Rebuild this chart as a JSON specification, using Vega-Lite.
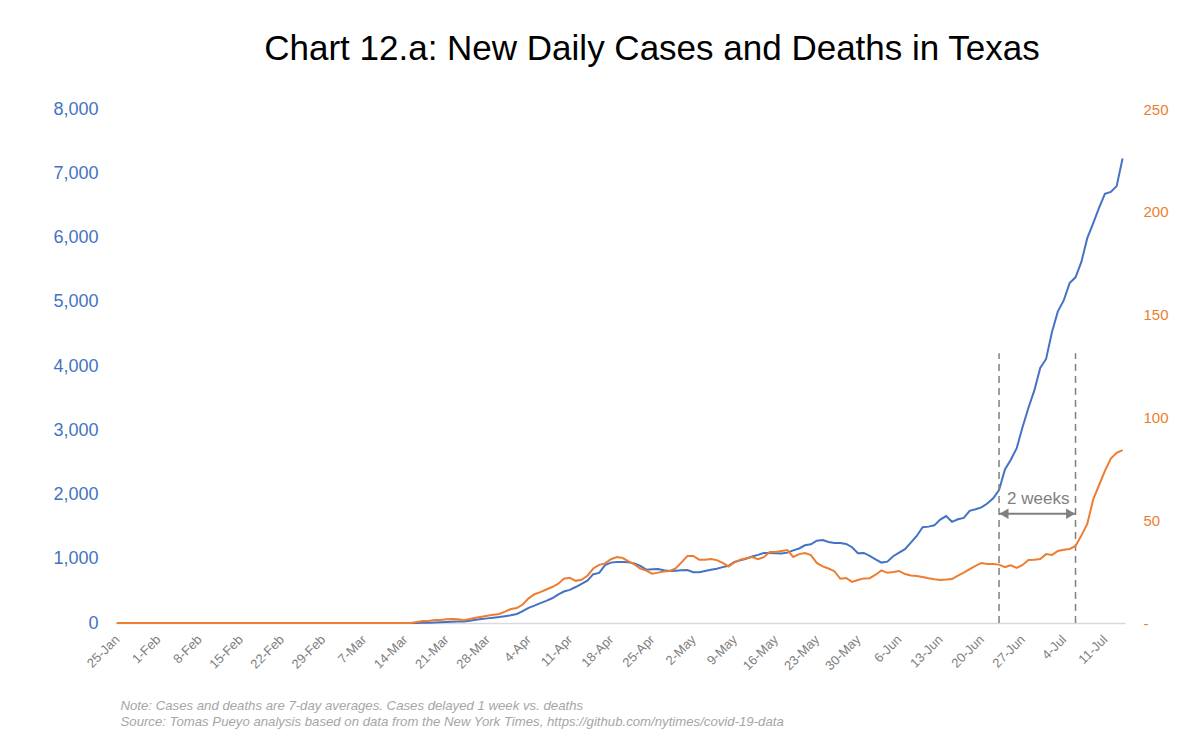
{
  "$schema": "https://vega.github.io/schema/vega-lite/v6.json",
  "width": 1010,
  "height": 514,
  "autosize": {"type": "pad"},
  "padding": {"left": 52, "top": 32, "right": 20, "bottom": 10},
  "background": "white",
  "config": {"view": {"stroke": null}, "font": "Liberation Sans"},
  "title": {"text": "Chart 12.a: New Daily Cases and Deaths in Texas", "font": "Liberation Sans", "fontSize": 35, "fontWeight": "normal", "color": "#000000", "anchor": "middle", "dx": 32, "offset": 33},
  "datasets": {
    "ts": [
      {"date": "2020-01-25", "cases": 0, "deaths": 0},
      {"date": "2020-01-26", "cases": 0, "deaths": 0},
      {"date": "2020-01-27", "cases": 0, "deaths": 0},
      {"date": "2020-01-28", "cases": 0, "deaths": 0},
      {"date": "2020-01-29", "cases": 0, "deaths": 0},
      {"date": "2020-01-30", "cases": 0, "deaths": 0},
      {"date": "2020-01-31", "cases": 0, "deaths": 0},
      {"date": "2020-02-01", "cases": 0, "deaths": 0},
      {"date": "2020-02-02", "cases": 0, "deaths": 0},
      {"date": "2020-02-03", "cases": 0, "deaths": 0},
      {"date": "2020-02-04", "cases": 0, "deaths": 0},
      {"date": "2020-02-05", "cases": 0, "deaths": 0},
      {"date": "2020-02-06", "cases": 0, "deaths": 0},
      {"date": "2020-02-07", "cases": 0, "deaths": 0},
      {"date": "2020-02-08", "cases": 0, "deaths": 0},
      {"date": "2020-02-09", "cases": 0, "deaths": 0},
      {"date": "2020-02-10", "cases": 0, "deaths": 0},
      {"date": "2020-02-11", "cases": 0, "deaths": 0},
      {"date": "2020-02-12", "cases": 0, "deaths": 0},
      {"date": "2020-02-13", "cases": 0, "deaths": 0},
      {"date": "2020-02-14", "cases": 0, "deaths": 0},
      {"date": "2020-02-15", "cases": 0, "deaths": 0},
      {"date": "2020-02-16", "cases": 0, "deaths": 0},
      {"date": "2020-02-17", "cases": 0, "deaths": 0},
      {"date": "2020-02-18", "cases": 0, "deaths": 0},
      {"date": "2020-02-19", "cases": 0, "deaths": 0},
      {"date": "2020-02-20", "cases": 0, "deaths": 0},
      {"date": "2020-02-21", "cases": 0, "deaths": 0},
      {"date": "2020-02-22", "cases": 0, "deaths": 0},
      {"date": "2020-02-23", "cases": 0, "deaths": 0},
      {"date": "2020-02-24", "cases": 0, "deaths": 0},
      {"date": "2020-02-25", "cases": 0, "deaths": 0},
      {"date": "2020-02-26", "cases": 0, "deaths": 0},
      {"date": "2020-02-27", "cases": 0, "deaths": 0},
      {"date": "2020-02-28", "cases": 0, "deaths": 0},
      {"date": "2020-02-29", "cases": 0, "deaths": 0},
      {"date": "2020-03-01", "cases": 0, "deaths": 0},
      {"date": "2020-03-02", "cases": 0, "deaths": 0},
      {"date": "2020-03-03", "cases": 0, "deaths": 0},
      {"date": "2020-03-04", "cases": 0, "deaths": 0},
      {"date": "2020-03-05", "cases": 0, "deaths": 0},
      {"date": "2020-03-06", "cases": 0, "deaths": 0},
      {"date": "2020-03-07", "cases": 0, "deaths": 0},
      {"date": "2020-03-08", "cases": 0, "deaths": 0},
      {"date": "2020-03-09", "cases": 0, "deaths": 0},
      {"date": "2020-03-10", "cases": 0, "deaths": 0},
      {"date": "2020-03-11", "cases": 0, "deaths": 0},
      {"date": "2020-03-12", "cases": 0, "deaths": 0},
      {"date": "2020-03-13", "cases": 0, "deaths": 0},
      {"date": "2020-03-14", "cases": 0, "deaths": 0},
      {"date": "2020-03-15", "cases": 0, "deaths": 0},
      {"date": "2020-03-16", "cases": 0, "deaths": 0.5},
      {"date": "2020-03-17", "cases": 2, "deaths": 1},
      {"date": "2020-03-18", "cases": 5, "deaths": 1},
      {"date": "2020-03-19", "cases": 8, "deaths": 1.5},
      {"date": "2020-03-20", "cases": 12, "deaths": 1.5},
      {"date": "2020-03-21", "cases": 15, "deaths": 1.8},
      {"date": "2020-03-22", "cases": 18, "deaths": 2},
      {"date": "2020-03-23", "cases": 22, "deaths": 1.8},
      {"date": "2020-03-24", "cases": 25, "deaths": 1.3},
      {"date": "2020-03-25", "cases": 35, "deaths": 2},
      {"date": "2020-03-26", "cases": 50, "deaths": 2.5},
      {"date": "2020-03-27", "cases": 62, "deaths": 3},
      {"date": "2020-03-28", "cases": 72, "deaths": 3.5},
      {"date": "2020-03-29", "cases": 82, "deaths": 4},
      {"date": "2020-03-30", "cases": 92, "deaths": 4.4},
      {"date": "2020-03-31", "cases": 105, "deaths": 5.5},
      {"date": "2020-04-01", "cases": 120, "deaths": 6.8},
      {"date": "2020-04-02", "cases": 140, "deaths": 7.3},
      {"date": "2020-04-03", "cases": 185, "deaths": 9},
      {"date": "2020-04-04", "cases": 235, "deaths": 12},
      {"date": "2020-04-05", "cases": 270, "deaths": 14},
      {"date": "2020-04-06", "cases": 310, "deaths": 15},
      {"date": "2020-04-07", "cases": 345, "deaths": 16.3},
      {"date": "2020-04-08", "cases": 385, "deaths": 17.5},
      {"date": "2020-04-09", "cases": 440, "deaths": 19},
      {"date": "2020-04-10", "cases": 490, "deaths": 21.5},
      {"date": "2020-04-11", "cases": 515, "deaths": 22},
      {"date": "2020-04-12", "cases": 560, "deaths": 20.5},
      {"date": "2020-04-13", "cases": 610, "deaths": 21},
      {"date": "2020-04-14", "cases": 660, "deaths": 23},
      {"date": "2020-04-15", "cases": 760, "deaths": 26.5},
      {"date": "2020-04-16", "cases": 780, "deaths": 28.3},
      {"date": "2020-04-17", "cases": 900, "deaths": 29},
      {"date": "2020-04-18", "cases": 940, "deaths": 31},
      {"date": "2020-04-19", "cases": 950, "deaths": 32.1},
      {"date": "2020-04-20", "cases": 950, "deaths": 31.6},
      {"date": "2020-04-21", "cases": 945, "deaths": 30},
      {"date": "2020-04-22", "cases": 925, "deaths": 28.5},
      {"date": "2020-04-23", "cases": 890, "deaths": 26.5},
      {"date": "2020-04-24", "cases": 830, "deaths": 25.5},
      {"date": "2020-04-25", "cases": 835, "deaths": 24},
      {"date": "2020-04-26", "cases": 840, "deaths": 24.5},
      {"date": "2020-04-27", "cases": 820, "deaths": 25},
      {"date": "2020-04-28", "cases": 810, "deaths": 25.3},
      {"date": "2020-04-29", "cases": 815, "deaths": 26.5},
      {"date": "2020-04-30", "cases": 820, "deaths": 29.5},
      {"date": "2020-05-01", "cases": 825, "deaths": 32.6},
      {"date": "2020-05-02", "cases": 790, "deaths": 32.6},
      {"date": "2020-05-03", "cases": 790, "deaths": 30.8},
      {"date": "2020-05-04", "cases": 810, "deaths": 30.8},
      {"date": "2020-05-05", "cases": 830, "deaths": 31.1},
      {"date": "2020-05-06", "cases": 845, "deaths": 30.6},
      {"date": "2020-05-07", "cases": 870, "deaths": 29.2},
      {"date": "2020-05-08", "cases": 890, "deaths": 27.5},
      {"date": "2020-05-09", "cases": 950, "deaths": 29.5},
      {"date": "2020-05-10", "cases": 975, "deaths": 30.8},
      {"date": "2020-05-11", "cases": 1000, "deaths": 31.5},
      {"date": "2020-05-12", "cases": 1035, "deaths": 32.1},
      {"date": "2020-05-13", "cases": 1060, "deaths": 31},
      {"date": "2020-05-14", "cases": 1090, "deaths": 32},
      {"date": "2020-05-15", "cases": 1090, "deaths": 34.5},
      {"date": "2020-05-16", "cases": 1085, "deaths": 34.5},
      {"date": "2020-05-17", "cases": 1080, "deaths": 35},
      {"date": "2020-05-18", "cases": 1095, "deaths": 35.5},
      {"date": "2020-05-19", "cases": 1130, "deaths": 32.1},
      {"date": "2020-05-20", "cases": 1160, "deaths": 33.5},
      {"date": "2020-05-21", "cases": 1210, "deaths": 34},
      {"date": "2020-05-22", "cases": 1225, "deaths": 33},
      {"date": "2020-05-23", "cases": 1280, "deaths": 29.2},
      {"date": "2020-05-24", "cases": 1290, "deaths": 27.5},
      {"date": "2020-05-25", "cases": 1260, "deaths": 26.5},
      {"date": "2020-05-26", "cases": 1245, "deaths": 25.2},
      {"date": "2020-05-27", "cases": 1245, "deaths": 21.5},
      {"date": "2020-05-28", "cases": 1230, "deaths": 21.9},
      {"date": "2020-05-29", "cases": 1180, "deaths": 20},
      {"date": "2020-05-30", "cases": 1085, "deaths": 20.9},
      {"date": "2020-05-31", "cases": 1090, "deaths": 21.7},
      {"date": "2020-06-01", "cases": 1045, "deaths": 21.8},
      {"date": "2020-06-02", "cases": 990, "deaths": 23.5},
      {"date": "2020-06-03", "cases": 940, "deaths": 25.6},
      {"date": "2020-06-04", "cases": 955, "deaths": 24.4},
      {"date": "2020-06-05", "cases": 1040, "deaths": 24.8},
      {"date": "2020-06-06", "cases": 1095, "deaths": 25.3},
      {"date": "2020-06-07", "cases": 1150, "deaths": 23.8},
      {"date": "2020-06-08", "cases": 1250, "deaths": 23.1},
      {"date": "2020-06-09", "cases": 1355, "deaths": 22.9},
      {"date": "2020-06-10", "cases": 1490, "deaths": 22.4},
      {"date": "2020-06-11", "cases": 1500, "deaths": 21.8},
      {"date": "2020-06-12", "cases": 1520, "deaths": 21.3},
      {"date": "2020-06-13", "cases": 1610, "deaths": 20.9},
      {"date": "2020-06-14", "cases": 1665, "deaths": 21.1},
      {"date": "2020-06-15", "cases": 1575, "deaths": 21.4},
      {"date": "2020-06-16", "cases": 1615, "deaths": 23},
      {"date": "2020-06-17", "cases": 1635, "deaths": 24.5},
      {"date": "2020-06-18", "cases": 1745, "deaths": 26.2},
      {"date": "2020-06-19", "cases": 1770, "deaths": 27.8},
      {"date": "2020-06-20", "cases": 1800, "deaths": 29.2},
      {"date": "2020-06-21", "cases": 1860, "deaths": 28.7},
      {"date": "2020-06-22", "cases": 1940, "deaths": 28.7},
      {"date": "2020-06-23", "cases": 2070, "deaths": 28.4},
      {"date": "2020-06-24", "cases": 2390, "deaths": 27.2},
      {"date": "2020-06-25", "cases": 2540, "deaths": 28.1},
      {"date": "2020-06-26", "cases": 2720, "deaths": 26.8},
      {"date": "2020-06-27", "cases": 3050, "deaths": 28.2},
      {"date": "2020-06-28", "cases": 3350, "deaths": 30.6},
      {"date": "2020-06-29", "cases": 3620, "deaths": 30.8},
      {"date": "2020-06-30", "cases": 3970, "deaths": 31.1},
      {"date": "2020-07-01", "cases": 4110, "deaths": 33.5},
      {"date": "2020-07-02", "cases": 4530, "deaths": 33.1},
      {"date": "2020-07-03", "cases": 4850, "deaths": 35},
      {"date": "2020-07-04", "cases": 5020, "deaths": 35.6},
      {"date": "2020-07-05", "cases": 5290, "deaths": 36},
      {"date": "2020-07-06", "cases": 5380, "deaths": 37.5},
      {"date": "2020-07-07", "cases": 5620, "deaths": 42.5},
      {"date": "2020-07-08", "cases": 5990, "deaths": 48.2},
      {"date": "2020-07-09", "cases": 6220, "deaths": 60},
      {"date": "2020-07-10", "cases": 6460, "deaths": 67},
      {"date": "2020-07-11", "cases": 6680, "deaths": 74},
      {"date": "2020-07-12", "cases": 6710, "deaths": 80},
      {"date": "2020-07-13", "cases": 6800, "deaths": 82.8},
      {"date": "2020-07-14", "cases": 7230, "deaths": 84.1}
    ],
    "markers": [
      {"date": "2020-06-23", "lo": 0, "hi": 4200},
      {"date": "2020-07-06", "lo": 0, "hi": 4200}
    ],
    "span": [
      {"start": "2020-06-23", "end": "2020-07-06", "level": 1700, "label": "2 weeks", "mid": "2020-06-29T16:00:00Z", "labelLevel": 1930}
    ],
    "heads": [
      {"date": "2020-06-23T20:00:00Z", "level": 1700, "dir": "left"},
      {"date": "2020-07-05T04:00:00Z", "level": 1700, "dir": "right"}
    ]
  },
  "layer": [
    {
      "layer": [
        {
          "data": {"name": "ts"},
          "mark": {"type": "line", "color": "#4472C4", "strokeWidth": 2},
          "encoding": {
            "x": {
              "field": "date", "type": "temporal",
              "scale": {"type": "utc", "domain": [{"year": 2020, "month": 1, "date": 24, "hours": 16, "utc": true}, {"year": 2020, "month": 7, "date": 14, "hours": 10, "utc": true}]},
              "axis": {
                "values": [
                  {"year": 2020, "month": 1, "date": 25, "utc": true},
                  {"year": 2020, "month": 2, "date": 1, "utc": true},
                  {"year": 2020, "month": 2, "date": 8, "utc": true},
                  {"year": 2020, "month": 2, "date": 15, "utc": true},
                  {"year": 2020, "month": 2, "date": 22, "utc": true},
                  {"year": 2020, "month": 2, "date": 29, "utc": true},
                  {"year": 2020, "month": 3, "date": 7, "utc": true},
                  {"year": 2020, "month": 3, "date": 14, "utc": true},
                  {"year": 2020, "month": 3, "date": 21, "utc": true},
                  {"year": 2020, "month": 3, "date": 28, "utc": true},
                  {"year": 2020, "month": 4, "date": 4, "utc": true},
                  {"year": 2020, "month": 4, "date": 11, "utc": true},
                  {"year": 2020, "month": 4, "date": 18, "utc": true},
                  {"year": 2020, "month": 4, "date": 25, "utc": true},
                  {"year": 2020, "month": 5, "date": 2, "utc": true},
                  {"year": 2020, "month": 5, "date": 9, "utc": true},
                  {"year": 2020, "month": 5, "date": 16, "utc": true},
                  {"year": 2020, "month": 5, "date": 23, "utc": true},
                  {"year": 2020, "month": 5, "date": 30, "utc": true},
                  {"year": 2020, "month": 6, "date": 6, "utc": true},
                  {"year": 2020, "month": 6, "date": 13, "utc": true},
                  {"year": 2020, "month": 6, "date": 20, "utc": true},
                  {"year": 2020, "month": 6, "date": 27, "utc": true},
                  {"year": 2020, "month": 7, "date": 4, "utc": true},
                  {"year": 2020, "month": 7, "date": 11, "utc": true}
                ],
                "format": "%-d-%b",
                "labelAngle": -45,
                "labelAlign": "right",
                "labelBaseline": "middle",
                "labelPadding": 14,
                "labelFontSize": 13,
                "labelColor": "#808080",
                "labelFont": "Liberation Sans",
                "labelOverlap": false,
                "ticks": false,
                "grid": false,
                "domainColor": "#d9d9d9",
                "domainWidth": 1.5,
                "title": ["Note: Cases and deaths are 7-day averages. Cases delayed 1 week vs. deaths", "Source: Tomas Pueyo analysis based on data from the New York Times, https://github.com/nytimes/covid-19-data"],
                "titleAnchor": "start",
                "titleAlign": "left",
                "titleX": 5,
                "titleFont": "Liberation Sans",
                "titleFontSize": 13.2,
                "titleFontStyle": "italic",
                "titleFontWeight": "normal",
                "titleColor": "#a6a6a6",
                "titleLineHeight": 16,
                "titlePadding": 27
              }
            },
            "y": {
              "field": "cases", "type": "quantitative",
              "scale": {"domain": [0, 8000]},
              "axis": {
                "values": [0, 1000, 2000, 3000, 4000, 5000, 6000, 7000, 8000],
                "labelExpr": "format(datum.value, ',.0f')",
                "labelColor": "#4472C4",
                "labelFontSize": 18,
                "labelFont": "Liberation Sans",
                "labelPadding": 17,
                "ticks": false,
                "domain": false,
                "grid": false,
                "title": null,
                "minExtent": 60,
                "maxExtent": 60
              }
            }
          }
        },
        {
          "data": {"name": "markers"},
          "mark": {"type": "rule", "color": "#808080", "strokeWidth": 1.5, "strokeDash": [7, 5]},
          "encoding": {
            "x": {"field": "date", "type": "temporal"},
            "y": {"field": "lo", "type": "quantitative", "scale": {"domain": [0, 8000]}},
            "y2": {"field": "hi"}
          }
        },
        {
          "data": {"name": "span"},
          "mark": {"type": "rule", "color": "#808080", "strokeWidth": 2},
          "encoding": {
            "x": {"field": "start", "type": "temporal"},
            "x2": {"field": "end"},
            "y": {"field": "level", "type": "quantitative", "scale": {"domain": [0, 8000]}}
          }
        },
        {
          "data": {"name": "heads"},
          "mark": {"type": "point", "filled": true, "color": "#808080", "opacity": 1, "size": 110},
          "encoding": {
            "x": {"field": "date", "type": "temporal"},
            "y": {"field": "level", "type": "quantitative", "scale": {"domain": [0, 8000]}},
            "shape": {"field": "dir", "type": "nominal", "scale": {"domain": ["left", "right"], "range": ["triangle-left", "triangle-right"]}, "legend": null}
          }
        },
        {
          "data": {"name": "span"},
          "mark": {"type": "text", "color": "#808080", "fontSize": 17, "font": "Liberation Sans", "align": "center", "baseline": "middle"},
          "encoding": {
            "x": {"field": "mid", "type": "temporal"},
            "y": {"field": "labelLevel", "type": "quantitative", "scale": {"domain": [0, 8000]}},
            "text": {"field": "label"}
          }
        }
      ]
    },
    {
      "data": {"name": "ts"},
      "mark": {"type": "line", "color": "#ED7D31", "strokeWidth": 2},
      "encoding": {
        "x": {"field": "date", "type": "temporal"},
        "y": {
          "field": "deaths", "type": "quantitative",
          "scale": {"domain": [0, 250]},
          "axis": {
            "orient": "right",
            "values": [0, 50, 100, 150, 200, 250],
            "labelExpr": "datum.value === 0 ? '-' : datum.label",
            "labelColor": "#ED7D31",
            "labelFontSize": 15,
            "labelFont": "Liberation Sans",
            "labelPadding": 18,
            "ticks": false,
            "domain": false,
            "grid": false,
            "title": null
          }
        }
      }
    }
  ],
  "resolve": {"scale": {"y": "independent"}}
}
